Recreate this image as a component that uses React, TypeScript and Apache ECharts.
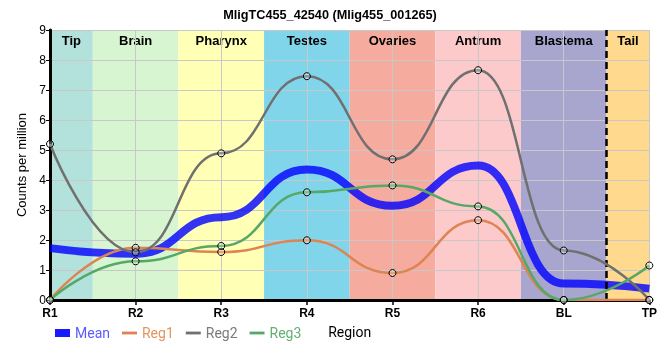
import React, { useEffect, useRef } from 'react';
import * as echarts from 'echarts';

const regions = ['R1', 'R2', 'R3', 'R4', 'R5', 'R6', 'BL', 'TP'];
const bandNames = ['Tip', 'Brain', 'Pharynx', 'Testes', 'Ovaries', 'Antrum', 'Blastema', 'Tail'];
const bandColors = ['#b3e2dd', '#d7f5d0', '#ffffb5', '#80d5eb', '#f5ab9e', '#fdcacc', '#a8a6cf', '#fed98e'];
const mean = [1.73, 1.54, 2.76, 4.35, 3.14, 4.48, 0.55, 0.38];
const reg1 = [0, 1.74, 1.6, 1.99, 0.9, 2.66, 0, 0];
const reg2 = [5.2, 1.59, 4.89, 7.46, 4.69, 7.66, 1.65, 0];
const reg3 = [0, 1.29, 1.8, 3.59, 3.82, 3.12, 0, 1.15];
const yTicks = [0, 1, 2, 3, 4, 5, 6, 7, 8, 9];
const tailBoundary = 6.5;

const FONT = '"Liberation Sans", Arial, sans-serif';
const LFONT = 'Roboto, "Liberation Sans", sans-serif';

const toPts = (arr: number[]) => arr.map((v, i) => [i, v]);

const regStyle = (name: string, values: number[], color: string) => ({
  name,
  type: 'line',
  data: toPts(values),
  smooth: 0.5,
  smoothMonotone: 'x',
  symbol: 'circle',
  symbolSize: 7,
  showSymbol: true,
  itemStyle: { color: 'rgba(255,255,255,0.25)', borderColor: '#000', borderWidth: 1 },
  lineStyle: { color, width: 2.5 },
  z: 5,
});

export default function App() {
  const ref = useRef<HTMLDivElement>(null);
  useEffect(() => {
    const chart = echarts.init(ref.current!, null, { renderer: 'svg' });
    const bands = bandNames.map((n, i) => [
      { name: n, xAxis: Math.max(0, i - 0.5), itemStyle: { color: bandColors[i] } },
      { xAxis: Math.min(regions.length - 1, i + 0.5) },
    ]);
    chart.setOption({
      animation: false,
      title: {
        text: 'MligTC455_42540 (Mlig455_001265)',
        left: 'center',
        top: 3,
        textStyle: { fontSize: 12.7, fontWeight: 'bold', color: '#000', fontFamily: FONT },
      },
      grid: { left: 50, right: 9, top: 30, bottom: 60 },
      legend: {
        left: 50,
        top: 321,
        itemWidth: 15,
        itemHeight: 8,
        itemGap: 12,
        textStyle: { fontSize: 14, fontFamily: LFONT },
        data: [
          { name: 'Mean', icon: 'rect', itemStyle: { color: '#1a1aff', borderWidth: 0 }, textStyle: { color: '#5a5aff' } },
          { name: 'Reg1', icon: 'path://M0,0 L16,0 L16,3 L0,3 Z', itemStyle: { color: '#dd8452', borderWidth: 0 }, textStyle: { color: '#e3955f' } },
          { name: 'Reg2', icon: 'path://M0,0 L16,0 L16,3 L0,3 Z', itemStyle: { color: '#707070', borderWidth: 0 }, textStyle: { color: '#7a7a7a' } },
          { name: 'Reg3', icon: 'path://M0,0 L16,0 L16,3 L0,3 Z', itemStyle: { color: '#55a868', borderWidth: 0 }, textStyle: { color: '#62b074' } },
        ],
      },
      xAxis: [
        {
          type: 'value',
          min: 0,
          max: regions.length - 1,
          interval: 1,
          position: 'bottom',
          z: 3,
          name: 'Region',
          nameLocation: 'middle',
          nameGap: 25,
          nameTextStyle: { fontSize: 14, color: '#000', fontFamily: LFONT },
          axisLine: { lineStyle: { color: '#000', width: 3 } },
          axisTick: { show: true, length: 5, lineStyle: { color: '#000', width: 1.5 } },
          axisLabel: {
            formatter: (v: number) => regions[v] ?? '',
            color: '#000',
            fontWeight: 'bold',
            fontSize: 12,
            fontFamily: FONT,
            margin: 7,
          },
          splitLine: { show: true, lineStyle: { color: '#c8c8c8', width: 1 } },
        },
        {
          type: 'value',
          min: 0,
          max: regions.length - 1,
          position: 'top',
          z: 3,
          axisLine: { lineStyle: { color: '#000', width: 1.5 } },
          axisTick: { show: false },
          axisLabel: { show: false },
          splitLine: { show: false },
        },
      ],
      yAxis: [
        {
          type: 'value',
          min: yTicks[0],
          max: yTicks[yTicks.length - 1],
          interval: 1,
          z: 3,
          name: 'Counts per million',
          nameLocation: 'middle',
          nameGap: 15,
          nameTextStyle: { fontSize: 13, color: '#000', fontFamily: FONT },
          axisLine: { show: true, lineStyle: { color: '#000', width: 3 } },
          axisTick: { show: true, length: 4, lineStyle: { color: '#000', width: 1 } },
          axisLabel: { color: '#000', fontSize: 12, fontFamily: FONT, margin: 4 },
          splitLine: { show: true, lineStyle: { color: '#c8c8c8', width: 1 } },
        },
        {
          type: 'value',
          min: yTicks[0],
          max: yTicks[yTicks.length - 1],
          position: 'right',
          z: 3,
          axisLine: { show: true, lineStyle: { color: '#000', width: 1.5 } },
          axisTick: { show: false },
          axisLabel: { show: false },
          splitLine: { show: false },
        },
      ],
      series: [
        {
          name: 'bands',
          type: 'line',
          data: toPts(regions.map(() => 0)),
          symbol: 'none',
          lineStyle: { opacity: 0 },
          silent: true,
          z: 1,
          markArea: {
            silent: true,
            label: {
              show: true,
              position: 'insideTop',
              distance: 4,
              color: '#000',
              fontWeight: 'bold',
              fontSize: 13,
              fontFamily: FONT,
            },
            data: bands,
          },
        },
        {
          name: 'divider',
          type: 'line',
          data: toPts(regions.map(() => 0)),
          symbol: 'none',
          lineStyle: { opacity: 0 },
          silent: true,
          z: 4,
          markLine: {
            silent: true,
            symbol: 'none',
            label: { show: false },
            lineStyle: { color: '#000', width: 2.5, type: [7, 4] },
            data: [{ xAxis: tailBoundary }],
          },
        },
        {
          name: 'Mean',
          type: 'line',
          data: toPts(mean),
          smooth: 0.5,
          smoothMonotone: 'x',
          symbol: 'none',
          showSymbol: false,
          itemStyle: { color: '#1a1aff' },
          lineStyle: { color: 'rgba(0,0,255,0.8)', width: 8 },
          z: 4,
        },
        regStyle('Reg1', reg1, '#dd8452'),
        regStyle('Reg2', reg2, '#707070'),
        regStyle('Reg3', reg3, '#55a868'),
      ],
    });
    return () => chart.dispose();
  }, []);
  return <div ref={ref} style={{ position: 'fixed', left: 0, top: 0, width: 660, height: 360 }} />;
}
